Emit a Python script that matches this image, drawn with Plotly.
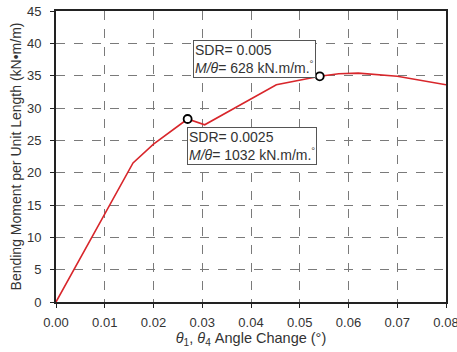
import plotly.graph_objects as go

angle = [0.0, 0.0158, 0.020, 0.027, 0.0305, 0.0452, 0.0541, 0.058, 0.062, 0.070, 0.080]
moment = [0.0, 21.5, 24.4, 28.3, 27.4, 33.6, 34.9, 35.3, 35.4, 34.9, 33.6]
mark_angle = [0.027, 0.0541]
mark_moment = [28.3, 34.9]
x_ticks = [0.00, 0.01, 0.02, 0.03, 0.04, 0.05, 0.06, 0.07, 0.08]
y_ticks = [0, 5, 10, 15, 20, 25, 30, 35, 40, 45]

font = "Liberation Sans, Arial, sans-serif"
fig = go.Figure()
fig.add_trace(go.Scatter(x=angle, y=moment, mode="lines",
                         line=dict(color="#d8262b", width=1.6), showlegend=False))
fig.add_trace(go.Scatter(x=mark_angle, y=mark_moment, mode="markers",
                         marker=dict(symbol="circle", size=8, color="white",
                                     line=dict(color="black", width=1.8)),
                         showlegend=False))

axis_common = dict(showgrid=True, gridcolor="#7a7a7a", griddash="dash", gridwidth=1.2,
                   showline=True, linecolor="#222", linewidth=2, mirror=True,
                   ticks="outside", ticklen=4, tickcolor="#222", automargin=False,
                   ticklabeloverflow="allow",
                   tickfont=dict(family=font, size=13, color="#333"), zeroline=False)

fig.update_xaxes(range=[0, 0.08], tickvals=x_ticks, tickformat=".2f",
                 ticklabelstandoff=3,
                 title=dict(text="<i>θ</i><sub>1</sub>, <i>θ</i><sub>4</sub> Angle Change (°)",
                            font=dict(family=font, size=14.5, color="#333"), standoff=3),
                 **axis_common)
fig.update_yaxes(range=[0, 45], tickvals=y_ticks, ticklabelstandoff=6,
                 title=dict(text="Bending Moment per Unit Length (kN•m/m)",
                            font=dict(family=font, size=14, color="#333"), standoff=2),
                 **axis_common)

fig.add_annotation(x=0.0281, y=0.90, xref="x", yref="paper", xanchor="left", yanchor="top",
                   text="SDR= 0.005<br><i>M/θ</i>= 628 kN.m/m.<sup>°</sup>",
                   showarrow=False, align="left", bgcolor="white",
                   bordercolor="#555", borderwidth=1, borderpad=1,
                   font=dict(family=font, size=14, color="#333"))
fig.add_annotation(x=0.0269, y=0.60, xref="x", yref="paper", xanchor="left", yanchor="top",
                   text="SDR= 0.0025<br><i>M/θ</i>= 1032 kN.m/m.<sup>°</sup>",
                   showarrow=False, align="left", bgcolor="white",
                   bordercolor="#555", borderwidth=1, borderpad=1,
                   font=dict(family=font, size=14, color="#333"))

fig.update_layout(width=457, height=352, margin=dict(l=56, r=11, t=11, b=50),
                  plot_bgcolor="white", paper_bgcolor="white")
fig.write_html("out.html", config={"displayModeBar": False},
               post_script="document.body.style.margin='0';")
